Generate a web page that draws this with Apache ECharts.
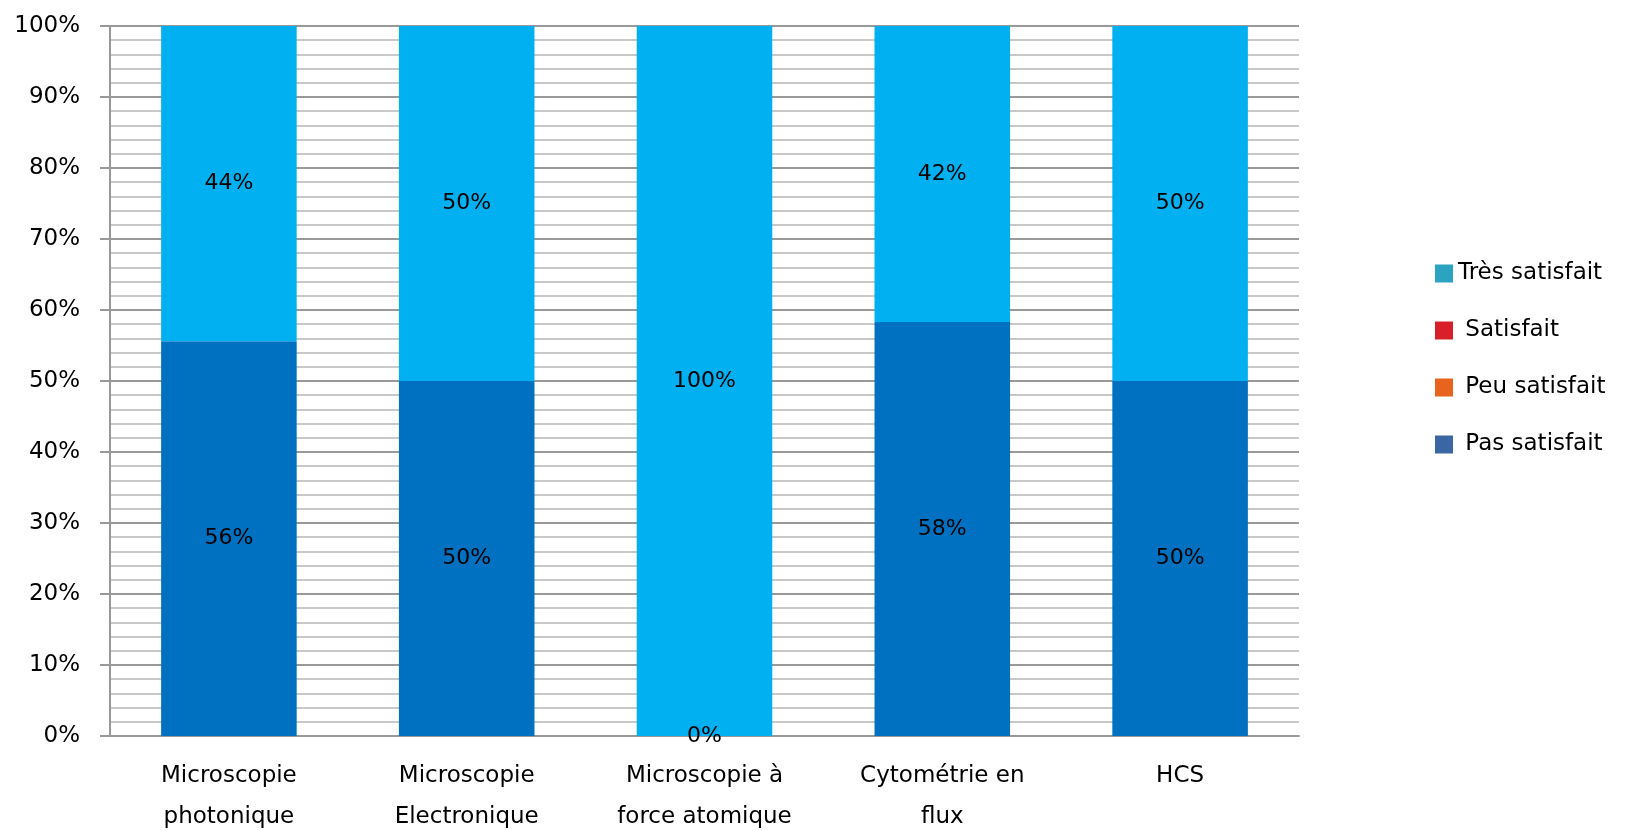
<!DOCTYPE html>
<html>
<head>
<meta charset="utf-8">
<script src="https://cdn.jsdelivr.net/npm/echarts@6/dist/echarts.min.js"></script>
<style>html,body{margin:0;padding:0;background:#fff;}#c{width:1628px;height:831px;}</style>
</head>
<body>
<div id="c"></div>
<script>
const categories = ['Microscopie\nphotonique', 'Microscopie\nElectronique', 'Microscopie à\nforce atomique', 'Cytométrie en\nflux', 'HCS'];
const pasSatisfait = [55.6, 50, 0, 58.3, 50];
const peuSatisfait = [0, 0, 0, 0, 0];
const satisfait = [0, 0, 0, 0, 0];
const tresSatisfait = [44.4, 50, 100, 41.7, 50];
const yTicks = [0, 10, 20, 30, 40, 50, 60, 70, 80, 90, 100];

const FONT = 'DejaVu Sans';
const chart = echarts.init(document.getElementById('c'), null, {renderer: 'canvas'});
const lbl = {show: true, position: 'inside', color: '#000', fontFamily: FONT, fontSize: 22,
  formatter: p => Math.round(p.value) + '%'};
chart.setOption({
  animation: false,
  textStyle: {fontFamily: FONT},
  grid: {left: 110, right: 329, top: 26, bottom: 95, containLabel: false, outerBoundsMode: 'none'},
  legend: {
    orient: 'vertical', left: 1430, top: 257, itemGap: 34, itemWidth: 18, itemHeight: 18,
    icon: 'rect',
    formatter: n => n === 'Très satisfait' ? n : ' ' + n,
    textStyle: {fontFamily: FONT, fontSize: 23, color: '#000'},
    data: [
      {name: 'Très satisfait', itemStyle: {color: '#2CA3C0'}},
      {name: 'Satisfait', itemStyle: {color: '#D9202A'}},
      {name: 'Peu satisfait', itemStyle: {color: '#E8641E'}},
      {name: 'Pas satisfait', itemStyle: {color: '#3A66A3'}}
    ]
  },
  xAxis: {
    type: 'category', data: categories,
    axisLine: {lineStyle: {color: '#999', width: 2}},
    axisTick: {show: false},
    axisLabel: {fontFamily: FONT, fontSize: 23, color: '#000', margin: 20, lineHeight: 41, interval: 0}
  },
  yAxis: {
    type: 'value', min: 0, max: 100, interval: 10,
    axisLine: {show: true, lineStyle: {color: '#999', width: 2}},
    axisTick: {show: true, length: 10, lineStyle: {color: '#999', width: 2}},
    axisLabel: {fontFamily: FONT, fontSize: 23, color: '#000', margin: 30, formatter: v => yTicks.includes(v) ? v + '%' : ''},
    splitLine: {lineStyle: {color: '#999', width: 2}},
    minorTick: {show: false, splitNumber: 5},
    minorSplitLine: {show: true, lineStyle: {color: '#c8c8c8', width: 2}}
  },
  series: [
    {name: 'Pas satisfait', type: 'bar', stack: 's', data: pasSatisfait, barWidth: '57%', itemStyle: {color: '#0070C0'}, label: lbl},
    {name: 'Peu satisfait', type: 'bar', stack: 's', data: peuSatisfait, itemStyle: {color: '#E8641E'}, label: {show: false}},
    {name: 'Satisfait', type: 'bar', stack: 's', data: satisfait, itemStyle: {color: '#D9202A'}, label: {show: false}},
    {name: 'Très satisfait', type: 'bar', stack: 's', data: tresSatisfait, itemStyle: {color: '#00B0F0'}, label: lbl}
  ]
});
</script>
</body>
</html>
